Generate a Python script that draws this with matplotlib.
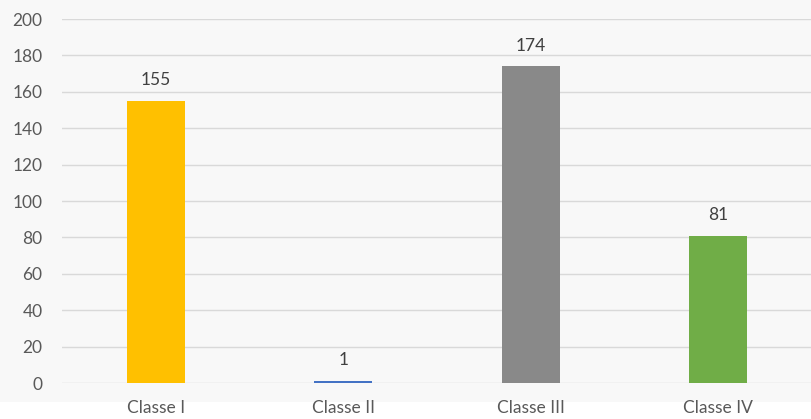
import matplotlib.pyplot as plt
from matplotlib.patches import Rectangle

# Daten
classes = ["Classe I", "Classe II", "Classe III", "Classe IV"]
values = [155, 1, 174, 81]
colors = ["#FFC000", "#4472C4", "#898989", "#70AD47"]

plt.rcParams['font.family'] = ['Lato', 'DejaVu Sans']

fig = plt.figure(figsize=(8.12, 4.19), dpi=100, facecolor="white")
# grauer Hintergrund (Diagrammbereich)
fig.patches.append(Rectangle((0, 17 / 419), 1, 1, transform=fig.transFigure,
                             facecolor="#F8F8F8", edgecolor="none", zorder=-10))

ax = fig.add_axes([62 / 812, 36 / 419, 750 / 812, 364 / 419])
ax.set_facecolor("none")

x = range(len(classes))
bars = ax.bar(x, values, width=0.31, color=colors, zorder=3)

for b, v in zip(bars, values):
    ax.text(b.get_x() + b.get_width() / 2, v + 7, str(v), ha="center", va="bottom",
            fontsize=12.5, color="#404040")

ax.set_xlim(-0.5, 3.5)
ax.set_ylim(0, 200)
ax.set_yticks(range(0, 201, 20))
ax.set_xticks(list(x))
ax.set_xticklabels(classes)
ax.grid(axis="y", color="#D9D9D9", linewidth=1, zorder=0)
ax.tick_params(axis="both", length=0, labelsize=12.5, labelcolor="#595959")
ax.tick_params(axis="x", pad=12)
ax.tick_params(axis="y", pad=14)
for s in ax.spines.values():
    s.set_visible(False)

fig.savefig("out.png", dpi=100, facecolor=fig.get_facecolor())
